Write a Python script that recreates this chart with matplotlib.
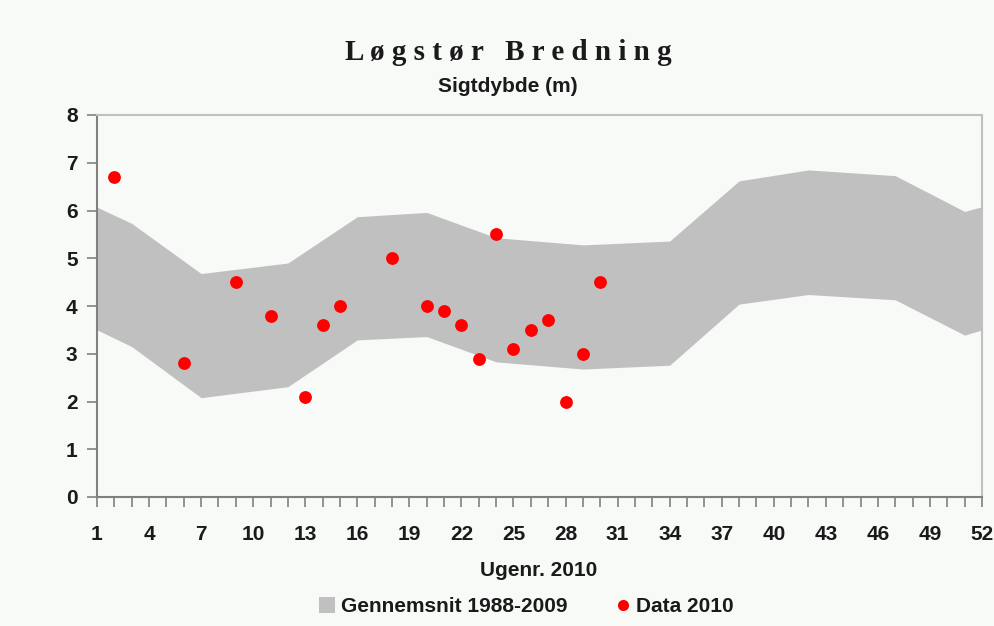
import matplotlib
matplotlib.use("Agg")
import matplotlib.pyplot as plt
from matplotlib.lines import Line2D
from matplotlib.ticker import MultipleLocator, FixedLocator

# Data
band_weeks = [1, 3, 7, 12, 16, 20, 24, 29, 34, 38, 42, 47, 51, 52]
band_upper = [6.07, 5.73, 4.68, 4.90, 5.87, 5.96, 5.43, 5.28, 5.36, 6.62, 6.85, 6.73, 5.98, 6.08]
band_lower = [3.50, 3.15, 2.08, 2.31, 3.29, 3.36, 2.83, 2.68, 2.76, 4.04, 4.24, 4.13, 3.39, 3.50]

data_weeks = [2, 6, 9, 11, 13, 14, 15, 18, 20, 21, 22, 23, 24, 25, 26, 27, 28, 29, 30]
data_values = [6.7, 2.8, 4.5, 3.8, 2.1, 3.6, 4.0, 5.0, 4.0, 3.9, 3.6, 2.9, 5.5, 3.1, 3.5, 3.7, 2.0, 3.0, 4.5]

x_tick_labels = [1, 4, 7, 10, 13, 16, 19, 22, 25, 28, 31, 34, 37, 40, 43, 46, 49, 52]
y_ticks = [0, 1, 2, 3, 4, 5, 6, 7, 8]

title = "Løgstør Bredning"
subtitle = "Sigtdybde (m)"
xlabel = "Ugenr. 2010"
band_label = "Gennemsnit 1988-2009"
data_label = "Data 2010"

bg = "#f7faf7"
band_color = "#c0c0c0"
text_color = "#1a1a1a"
sans = ["Liberation Sans", "DejaVu Sans"]

fig = plt.figure(figsize=(9.95, 6.26), dpi=100, facecolor=bg)
ax = fig.add_axes([97/995, 1-497/626, (982-97)/995, (497-115)/626])
ax.set_facecolor(bg)

ax.fill_between(band_weeks, band_lower, band_upper, color=band_color, linewidth=0, zorder=1)
ax.scatter(data_weeks, data_values, s=85, color="#ff0000", zorder=3, linewidths=0)

ax.set_xlim(1, 52)
ax.set_ylim(0, 8)
ax.xaxis.set_major_locator(FixedLocator(x_tick_labels))
ax.xaxis.set_minor_locator(MultipleLocator(1))
ax.set_xticklabels([str(v) for v in x_tick_labels])
ax.set_yticks(y_ticks)

for s in ["left", "bottom"]:
    ax.spines[s].set_color("#808080")
    ax.spines[s].set_linewidth(1.5)
for s in ["top", "right"]:
    ax.spines[s].set_color("#c0c0c0")
    ax.spines[s].set_linewidth(1.5)

ax.tick_params(axis="both", which="both", direction="out", length=7, width=1.2, color="#808080")
ax.tick_params(axis="x", which="major", pad=13)
ax.tick_params(axis="y", which="major", pad=7)
for lab in ax.get_xticklabels() + ax.get_yticklabels():
    lab.set_fontfamily(sans)
    lab.set_fontweight("bold")
    lab.set_fontsize(15)
    lab.set_color(text_color)

spaced = "   ".join(" ".join(w) for w in title.split(" "))
fig.text(508/995, 1-53/626, spaced, ha="center", va="center",
         family=["Liberation Serif", "DejaVu Serif"], fontweight="bold", fontsize=21, color=text_color)
fig.text(508/995, 1-86/626, subtitle, ha="center", va="center",
         family=sans, fontweight="bold", fontsize=15, color=text_color)
fig.text(539/995, 1-571/626, xlabel, ha="center", va="center",
         family=sans, fontweight="bold", fontsize=15, color=text_color)

handles = [
    Line2D([], [], linestyle="none", marker="s", markersize=11, markerfacecolor=band_color, markeredgewidth=0),
    Line2D([], [], linestyle="none", marker="o", markersize=8, markerfacecolor="#ff0000", markeredgewidth=0),
]
leg = fig.legend(handles, [band_label, data_label], loc="center", bbox_to_anchor=(527/995, 1-607/626),
                 ncol=2, frameon=False, handlelength=0.7, handletextpad=0.3, columnspacing=2.3,
                 prop={"family": sans, "weight": "bold", "size": 15})
for t in leg.get_texts():
    t.set_color(text_color)

fig.savefig("out.png", dpi=100, facecolor=bg)
